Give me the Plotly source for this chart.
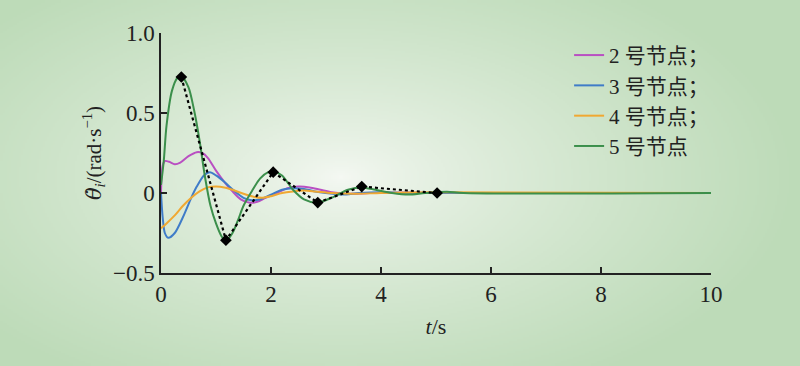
import base64, struct, zlib
import numpy as np
import plotly.graph_objects as go

# ---------------- data ----------------
t2 = [0, 0.03, 0.07, 0.15, 0.25, 0.35, 0.5, 0.65, 0.75, 0.85, 1.0, 1.15, 1.3, 1.45, 1.6, 1.75, 1.9, 2.1, 2.3, 2.5, 2.7, 2.9, 3.1, 3.4, 3.8, 4.5, 5.0, 10]
v2 = [0, 0.17, 0.2, 0.195, 0.18, 0.19, 0.23, 0.255, 0.25, 0.22, 0.14, 0.07, 0.01, -0.04, -0.06, -0.055, -0.03, 0.0, 0.03, 0.04, 0.035, 0.02, 0.005, -0.005, 0.0, 0.003, 0.0, 0.0]

t3 = [0, 0.03, 0.07, 0.13, 0.25, 0.4, 0.55, 0.65, 0.78, 0.89, 1.0, 1.15, 1.31, 1.5, 1.65, 1.8, 2.0, 2.2, 2.4, 2.6, 2.8, 3.0, 3.3, 3.6, 4.0, 4.5, 5.0, 10]
v3 = [0, -0.15, -0.25, -0.28, -0.25, -0.15, -0.03, 0.04, 0.11, 0.13, 0.11, 0.07, 0.02, -0.03, -0.045, -0.04, -0.01, 0.02, 0.03, 0.025, 0.01, 0.0, -0.01, 0.0, 0.005, 0.0, 0.0, 0.0]

t4 = [0, 0.1, 0.25, 0.4, 0.55, 0.7, 0.85, 1.0, 1.15, 1.3, 1.5, 1.7, 1.85, 2.0, 2.2, 2.4, 2.6, 2.8, 3.1, 3.5, 4.0, 5.0, 10]
v4 = [-0.22, -0.19, -0.14, -0.08, -0.03, 0.01, 0.035, 0.04, 0.035, 0.02, -0.005, -0.025, -0.03, -0.02, 0.0, 0.01, 0.015, 0.01, 0.0, -0.005, 0.0, 0.005, 0.0]

t5 = [0, 0.05, 0.1, 0.2, 0.3, 0.37, 0.5, 0.6, 0.7, 0.8, 0.9, 1.0, 1.1, 1.18, 1.3, 1.4, 1.5, 1.65, 1.8, 1.95, 2.05, 2.2, 2.4, 2.6, 2.85, 3.1, 3.4, 3.65, 3.9, 4.2, 4.5, 4.8, 5.2, 5.5, 10]
v5 = [0.05, 0.2, 0.42, 0.64, 0.72, 0.73, 0.66, 0.52, 0.33, 0.1, -0.08, -0.19, -0.27, -0.30, -0.25, -0.17, -0.08, 0.01, 0.09, 0.13, 0.135, 0.11, 0.02, -0.04, -0.06, -0.03, 0.02, 0.035, 0.02, 0.0, -0.01, 0.0, 0.008, 0.0, 0.0]

peak_t = [0.37, 1.18, 2.04, 2.85, 3.65, 5.02]
peak_v = [0.725, -0.295, 0.13, -0.06, 0.04, 0.0]

names = ["2 号节点；", "3 号节点；", "4 号节点；", "5 号节点"]
colors = ["#b94fc2", "#3f7cc8", "#f0a832", "#3b8f4b"]
x_ticks = [0, 2, 4, 6, 8, 10]
y_ticks = [-0.5, 0, 0.5, 1.0]
y_tick_text = ["\u22120.5", "0", "0.5", "1.0"]

# ---------------- background gradient (style only) ----------------
W, H = 400, 183
yy, xx = np.mgrid[0:H, 0:W].astype(float)
cx, cy, rx, ry = 170, 88, 230, 120
d = np.sqrt(((xx - cx) / rx) ** 2 + ((yy - cy) / ry) ** 2)
f = np.clip(d, 0, 1) ** 0.75
center = np.array([246, 249, 244], float)
edge = np.array([189, 219, 184], float)
img = (center[None, None, :] * (1 - f[..., None]) + edge[None, None, :] * f[..., None]).astype(np.uint8)

def png_uri(a):
    h, w, _ = a.shape
    raw = b"".join(b"\x00" + a[i].tobytes() for i in range(h))
    def chunk(tag, data):
        c = struct.pack(">I", len(data)) + tag + data
        return c + struct.pack(">I", zlib.crc32(tag + data) & 0xffffffff)
    png = b"\x89PNG\r\n\x1a\n" + chunk(b"IHDR", struct.pack(">IIBBBBB", w, h, 8, 2, 0, 0, 0)) \
        + chunk(b"IDAT", zlib.compress(raw, 9)) + chunk(b"IEND", b"")
    return "data:image/png;base64," + base64.b64encode(png).decode()

# ---------------- figure ----------------
L, R, T, B = 161, 89, 33, 93
pw, ph = 800 - L - R, 366 - T - B
font_fam = "Liberation Serif, Noto Sans CJK SC, serif"

fig = go.Figure()
for tt, vv, nm, col in zip([t2, t3, t4, t5], [v2, v3, v4, v5], names, colors):
    fig.add_trace(go.Scatter(x=tt, y=vv, mode="lines", name=nm,
                             line=dict(color=col, width=2, shape="spline", smoothing=0.8)))
fig.add_trace(go.Scatter(x=peak_t, y=peak_v, mode="lines+markers", showlegend=False,
                         line=dict(color="black", width=2.2, dash="dot"),
                         marker=dict(symbol="diamond", size=9, color="black")))

fig.update_layout(
    width=800, height=366,
    margin=dict(l=L, r=R, t=T, b=B),
    paper_bgcolor="#bddbb8", plot_bgcolor="rgba(0,0,0,0)",
    font=dict(family=font_fam, size=23, color="#222"),
    images=[dict(source=png_uri(img), xref="paper", yref="paper",
                 x=-L / pw, y=1 + T / ph, sizex=800 / pw, sizey=366 / ph,
                 sizing="stretch", layer="below")],
    showlegend=True,
    legend=dict(x=0.742, y=0.992, xanchor="left", yanchor="top", bgcolor="rgba(0,0,0,0)",
                font=dict(family=font_fam, size=21, color="#222"), tracegroupgap=0),
    xaxis=dict(range=[0, 10], tickvals=x_ticks, ticks="inside", ticklen=6, tickwidth=1.5,
               showline=True, linecolor="#222", linewidth=1.5, showgrid=False, zeroline=False,
               tickcolor="#222", title=dict(text="<i>t</i>/s", font=dict(size=22), standoff=12)),
    yaxis=dict(range=[-0.5, 1.0], tickvals=y_ticks, ticktext=y_tick_text, ticks="inside",
               ticklen=6, tickwidth=1.5, showline=True, linecolor="#222", linewidth=1.5,
               showgrid=False, zeroline=False, tickcolor="#222",
               title=dict(text="<span style=\"font-family:'DejaVu Serif'\"><i>θ̇</i></span><sub><i>i</i></sub>/(rad·s<sup>−1</sup>)",
                          font=dict(size=21), standoff=6)),
)
fig.write_html("out.html", post_script="document.body.style.margin='0';",
               config={"displayModeBar": False})
